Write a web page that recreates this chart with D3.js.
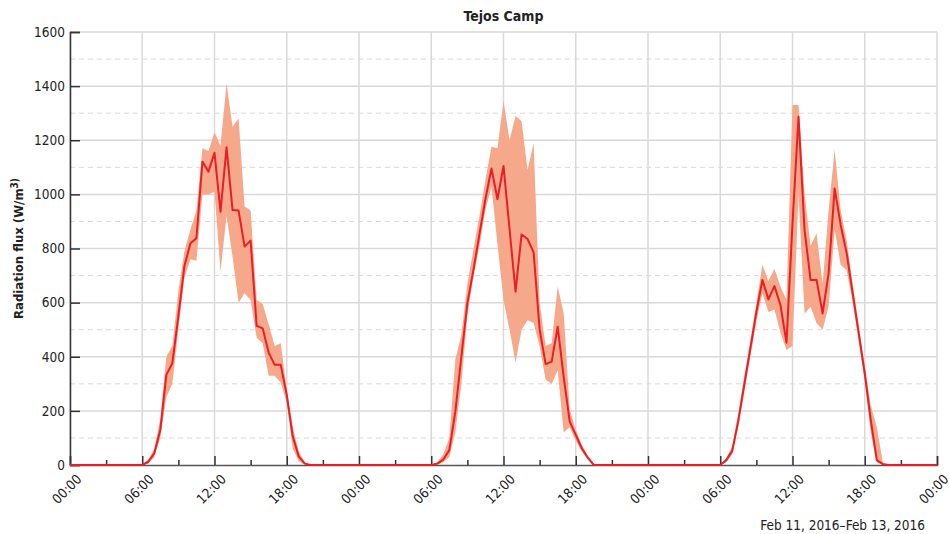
<!DOCTYPE html>
<html>
<head>
<meta charset="utf-8">
<script src="https://cdn.jsdelivr.net/npm/d3@7"></script>
<style>
  body { margin: 0; background: #fff; }
  svg { font-family: "Liberation Sans Narrow", "DejaVu Sans Condensed", sans-serif; }
  .grid line { stroke: #d9d9d9; }
</style>
</head>
<body>
<div class="container"></div>
<script>
// half-hourly values, Feb 11 00:00 -> Feb 14 00:00 (145 points)
const meanFlux = [
  0,0,0,0,0,0,0,0,0,0,0,0,
  0,12,43,129,333,376,550,735,819,838,1121,1084,
  1154,936,1174,942,940,807,829,514,505,415,370,370,
  259,105,31,5,0,0,0,0,0,0,0,0,
  0,0,0,0,0,0,0,0,0,0,0,0,
  0,5,20,55,197,400,598,720,852,983,1096,982,
  1105,873,641,852,835,786,501,373,382,511,325,160,
  111,62,27,0,0,0,0,0,0,0,0,0,
  0,0,0,0,0,0,0,0,0,0,0,0,
  0,18,53,164,298,431,565,684,612,661,591,452,
  892,1287,868,684,684,560,708,1022,887,782,634,487,
  339,166,18,3,0,0,0,0,0,0,0,0,
  0
]
const lowFlux = [
  0,0,0,0,0,0,0,0,0,0,0,0,
  0,5,30,100,250,300,500,690,760,755,1000,1000,
  1010,715,920,770,600,635,610,470,450,330,330,305,
  230,60,15,0,0,0,0,0,0,0,0,0,
  0,0,0,0,0,0,0,0,0,0,0,0,
  0,0,10,30,120,300,550,696,807,942,1028,815,
  610,500,380,500,535,525,440,315,300,350,120,140,
  90,50,20,0,0,0,0,0,0,0,0,0,
  0,0,0,0,0,0,0,0,0,0,0,0,
  0,10,40,140,270,400,530,635,565,575,490,425,
  440,1000,560,585,525,500,585,870,740,720,600,455,
  310,120,10,0,0,0,0,0,0,0,0,0,
  0
]
const highFlux = [
  0,0,0,0,0,0,0,0,0,0,0,0,
  0,20,60,170,400,440,640,790,870,940,1170,1160,
  1230,1180,1410,1250,1280,955,940,610,595,520,440,450,
  280,140,50,10,0,0,0,0,0,0,0,0,
  0,0,0,0,0,0,0,0,0,0,0,0,
  0,10,40,100,390,480,670,795,918,1053,1176,1170,
  1345,1200,1290,1270,1090,1190,600,440,450,660,560,205,
  130,75,35,0,0,0,0,0,0,0,0,0,
  0,0,0,0,0,0,0,0,0,0,0,0,
  0,25,70,190,330,460,600,740,680,725,660,610,
  1330,1330,1005,810,855,670,940,1165,940,830,670,515,
  365,220,140,10,0,0,0,0,0,0,0,0,
  0
]
const yTicks = [0,200,400,600,800,1000,1200,1400,1600]
const yMinor = [100,300,500,700,900,1100,1300,1500]
const chartTitle = "Tejos Camp"
const dateRange = "Feb 11, 2016\u2013Feb 13, 2016"

document.addEventListener("DOMContentLoaded",()=>{
    const width = 949
    const height = 534
    const left = 70, right = 937, top = 32, bottom = 465
    const startTime = new Date(2016,1,11,0,0)
    const endTime = new Date(2016,1,14,0,0)

    const data = meanFlux.map((d,i)=>({
        t: d3.timeMinute.offset(startTime, 30*i),
        mean: d, low: lowFlux[i], high: highFlux[i]
    }))

    const xScale = d3.scaleTime().domain([startTime,endTime]).range([left,right])
    const yScale = d3.scaleLinear().domain([0,1600]).range([bottom,top])
    const majorTimes = d3.timeHour.every(6).range(startTime, d3.timeHour.offset(endTime,1))
    const minorTimes = d3.timeHour.every(3).range(startTime, endTime).filter((d)=> d.getHours()%6 != 0)

    const svg = d3.select(".container").append("svg").attr("width",width).attr("height",height)

    // grid
    const grid = svg.append("g").attr("class","grid")
    grid.selectAll(".vgrid").data(majorTimes).enter().append("line")
        .attr("x1",(d)=> xScale(d)).attr("x2",(d)=> xScale(d))
        .attr("y1",top).attr("y2",bottom)
        .attr("stroke-width",1.5)
    grid.selectAll(".hgrid").data(yTicks.slice(1)).enter().append("line")
        .attr("x1",left).attr("x2",right)
        .attr("y1",(d)=> yScale(d)).attr("y2",(d)=> yScale(d))
        .attr("stroke-width",1.5)
    grid.selectAll(".hminor").data(yMinor).enter().append("line")
        .attr("x1",left).attr("x2",right)
        .attr("y1",(d)=> yScale(d)).attr("y2",(d)=> yScale(d))
        .attr("stroke-dasharray","5,4")
        .attr("stroke-width",1)

    // axes
    const yAxis = d3.axisLeft(yScale).tickValues(yTicks).tickSize(-10).tickPadding(5).tickFormat(d3.format("d"))
    const yg = svg.append("g").attr("transform",`translate(${left},0)`).call(yAxis)
    yg.attr("font-family",null).attr("font-size",13.5)
    yg.select(".domain").attr("stroke","#333").attr("stroke-width",1.5)
    yg.selectAll(".tick line").attr("stroke","#333").attr("stroke-width",1.5)
    yg.selectAll(".tick text").attr("fill","#222")

    const xAxis = d3.axisBottom(xScale).tickValues(majorTimes).tickSize(-9).tickFormat(d3.timeFormat("%H:%M"))
    const xg = svg.append("g").attr("transform",`translate(0,${bottom})`).call(xAxis)
    xg.attr("font-family",null).attr("font-size",13.5)
    xg.select(".domain").attr("stroke","#555").attr("stroke-width",1.5)
    xg.selectAll(".tick line").attr("stroke","#333").attr("stroke-width",1.5)
    xg.selectAll(".tick text")
        .attr("fill","#222")
        .attr("text-anchor","end")
        .attr("y",0).attr("dy",0)
        .attr("transform","translate(12,15) rotate(-45)")
    const xMinorAxis = d3.axisBottom(xScale).tickValues(minorTimes).tickSize(-5).tickFormat("")
    const xm = svg.append("g").attr("transform",`translate(0,${bottom})`).call(xMinorAxis)
    xm.select(".domain").remove()
    xm.selectAll(".tick line").attr("stroke","#333").attr("stroke-width",1.5)

    // band + mean line
    const band = d3.area()
        .x((d)=> xScale(d.t))
        .y0((d)=> yScale(d.low))
        .y1((d)=> yScale(d.high))
    svg.append("path").datum(data)
        .attr("d",band)
        .attr("fill","#f6a88b")
    const line = d3.line()
        .x((d)=> xScale(d.t))
        .y((d)=> yScale(d.mean))
    svg.append("path").datum(data)
        .attr("d",line)
        .attr("fill","none")
        .attr("stroke","#ec1d25")
        .attr("stroke-width",2)
        .attr("stroke-linejoin","round")

    // texts
    svg.append("text")
        .text(chartTitle)
        .attr("x",(left+right)/2).attr("y",21)
        .attr("text-anchor","middle")
        .attr("font-weight","bold")
        .attr("font-size",14)
        .attr("fill","#222")
    const ylab = svg.append("text")
        .attr("text-anchor","middle")
        .attr("font-weight","bold")
        .attr("font-size",13)
        .attr("fill","#222")
        .attr("transform",`translate(23,${(top+bottom)/2}) rotate(-90)`)
    ylab.append("tspan").text("Radiation flux (W/m")
    ylab.append("tspan").text("3)").attr("font-size",10).attr("dy",-5)
    svg.append("text")
        .text(dateRange)
        .attr("x",925).attr("y",530)
        .attr("text-anchor","end")
        .attr("font-size",13.5)
        .attr("fill","#222")
})
</script>
</body>
</html>
